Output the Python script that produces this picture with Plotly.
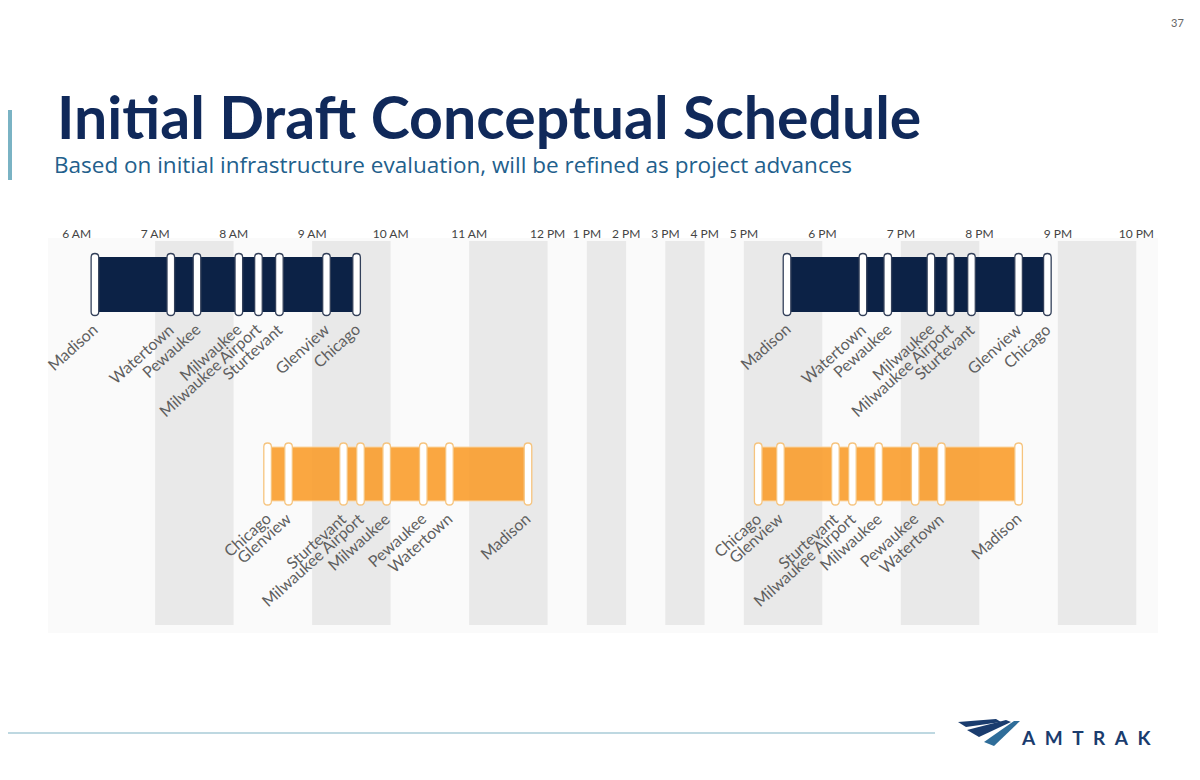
import plotly.graph_objects as go

# ---------------- data ----------------
hour_values = list(range(6, 23))
hour_labels = ["6 AM", "7 AM", "8 AM", "9 AM", "10 AM", "11 AM", "12 PM", "1 PM", "2 PM",
               "3 PM", "4 PM", "5 PM", "6 PM", "7 PM", "8 PM", "9 PM", "10 PM"]
band_start_hours = [7, 9, 11, 13, 15, 17, 19, 21]

eastbound_stations = ["Madison", "Watertown", "Pewaukee", "Milwaukee", "Milwaukee Airport",
                      "Sturtevant", "Glenview", "Chicago"]
westbound_stations = ["Chicago", "Glenview", "Sturtevant", "Milwaukee Airport", "Milwaukee",
                      "Pewaukee", "Watertown", "Madison"]

eb_morning_times = ["6:14", "7:12", "7:32", "8:04", "8:19", "8:35", "9:11", "9:34"]
eb_evening_times = ["17:33", "18:31", "18:50", "19:23", "19:38", "19:54", "20:30", "20:52"]
wb_morning_times = ["8:26", "8:42", "9:24", "9:37", "9:57", "10:25", "10:45", "11:45"]
wb_evening_times = ["17:11", "17:28", "18:10", "18:23", "18:43", "19:11", "19:31", "20:30"]

title_text = "Initial Draft Conceptual Schedule"
subtitle_text = "Based on initial infrastructure evaluation, will be refined as project advances"
page_number = "37"

# ---------------- helpers ----------------
def to_hours(t):
    h, m = t.split(":")
    return int(h) + int(m) / 60.0


def axis_pos(h):
    """Time scale with the midday hours (12 PM - 5 PM) drawn at half width."""
    if h <= 12:
        return h
    if h <= 17:
        return 12 + (h - 12) / 2.0
    return 14.5 + (h - 17)


OFF = 8                      # the page body has an 8px margin
W, H = 1200 - OFF, 780 - OFF
PLOT_TOP, PLOT_BOT = 241 - OFF, 625 - OFF
X_RANGE = [5.1261, 20.311]
Y_RANGE = [-0.797, 1.2296]
BAR_W = 0.285

NAVY = "#0c2246"
ORANGE = "rgb(250,160,50)"


def px(x):
    """page pixel x -> paper fraction"""
    return (x - OFF) / W


def py(y):
    """page pixel y -> paper fraction"""
    return (PLOT_BOT - (y - OFF)) / (PLOT_BOT - PLOT_TOP)


trips = [
    dict(stations=eastbound_stations, times=eb_morning_times, row=1, kind="eb"),
    dict(stations=eastbound_stations, times=eb_evening_times, row=1, kind="eb"),
    dict(stations=westbound_stations, times=wb_morning_times, row=0, kind="wb"),
    dict(stations=westbound_stations, times=wb_evening_times, row=0, kind="wb"),
]

fig = go.Figure()

# bars
for kind, color, opacity, line_col in [("eb", NAVY, 1.0, NAVY), ("wb", ORANGE, 0.92, "#fbd6a2")]:
    sel = [t for t in trips if t["kind"] == kind]
    starts = [axis_pos(to_hours(t["times"][0])) for t in sel]
    ends = [axis_pos(to_hours(t["times"][-1])) for t in sel]
    fig.add_trace(go.Bar(
        orientation="h",
        y=[t["row"] for t in sel],
        base=starts,
        x=[e - s for s, e in zip(starts, ends)],
        width=BAR_W,
        marker=dict(color=color, opacity=opacity, line=dict(color=line_col, width=1)),
        hoverinfo="skip",
        showlegend=False,
    ))

shapes = []
# faint chart backdrop
shapes.append(dict(type="rect", xref="paper", yref="paper", x0=px(48), x1=px(1158),
                   y0=py(633), y1=py(238), fillcolor="#fafafa", line=dict(width=0), layer="below"))
# alternating hour bands
for b in band_start_hours:
    shapes.append(dict(type="rect", xref="x", yref="paper", x0=axis_pos(b), x1=axis_pos(b + 1),
                       y0=0, y1=1, fillcolor="#e9e9e9", line=dict(width=0), layer="below"))

# stop markers (rounded white pills)
mw, mh, r = 3.8, 31, 3.8
pill = (f"M {-mw},{-mh + r} Q {-mw},{-mh} 0,{-mh} Q {mw},{-mh} {mw},{-mh + r} "
        f"L {mw},{mh - r} Q {mw},{mh} 0,{mh} Q {-mw},{mh} {-mw},{mh - r} Z")
annotations = []
for t in trips:
    outline = "#33405a" if t["kind"] == "eb" else "#f6c47e"
    for st, tm in zip(t["stations"], t["times"]):
        xp = axis_pos(to_hours(tm))
        shapes.append(dict(type="path", xref="x", yref="y", xsizemode="pixel", ysizemode="pixel",
                           xanchor=xp, yanchor=t["row"], path=pill, fillcolor="white",
                           line=dict(color=outline, width=1.3), layer="above"))
        annotations.append(dict(
            x=xp, y=t["row"] - BAR_W / 2, xref="x", yref="y", text=st, showarrow=False,
            textangle=-42, xanchor="right", yanchor="top", xshift=9, yshift=-5,
            font=dict(family="Lato", size=16, color="#5f5f5f"),
        ))

# page decorations
shapes.append(dict(type="rect", xref="paper", yref="paper", x0=px(8), x1=px(12), y0=py(180), y1=py(110),
                   fillcolor="#7ab3c4", line=dict(width=0)))
shapes.append(dict(type="line", xref="paper", yref="paper", x0=px(8), x1=px(935), y0=py(733), y1=py(733),
                   line=dict(color="#a9cbd7", width=1.5)))
shapes.append(dict(type="line", xref="paper", yref="paper", x0=px(1197), x1=px(1197), y0=py(8), y1=py(780),
                   line=dict(color="#dedede", width=1.5)))


def poly(points):
    return "M " + " L ".join(f"{px(x)},{py(y)}" for x, y in points) + " Z"


for pts, col in [
    ([(958, 722), (996, 719), (1001, 722), (966, 727)], "#1a3c6e"),
    ([(967, 730), (1006, 720), (1011, 722), (979, 737)], "#1a3c6e"),
    ([(984, 742), (1014, 721), (1020, 721), (994, 746)], "#2f6d99"),
]:
    shapes.append(dict(type="path", xref="paper", yref="paper", path=poly(pts),
                       fillcolor=col, line=dict(width=0)))

annotations += [
    dict(x=px(56), y=py(117), xref="paper", yref="paper", text=f"<b>{title_text}</b>", showarrow=False,
         xanchor="left", yanchor="middle", borderpad=0,
         font=dict(family="Lato", size=59, color="#10295a")),
    dict(x=px(53), y=py(165), xref="paper", yref="paper", text=subtitle_text, showarrow=False,
         xanchor="left", yanchor="middle", borderpad=0,
         font=dict(family="Open Sans", size=22.5, color="#22608c")),
    dict(x=px(1177), y=py(22), xref="paper", yref="paper", text=page_number, showarrow=False,
         xanchor="center", yanchor="middle", font=dict(family="Lato", size=11, color="#666666")),
    dict(x=px(1086), y=py(737), xref="paper", yref="paper",
         text="<b>A\u2002M\u2002T\u2002R\u2002A\u2002K</b>", showarrow=False,
         xanchor="center", yanchor="middle", font=dict(family="Lato", size=19, color="#1a3c6e")),
]

fig.update_layout(
    width=W, height=H,
    margin=dict(l=0, r=0, t=PLOT_TOP, b=H - PLOT_BOT, pad=0),
    paper_bgcolor="white", plot_bgcolor="rgba(0,0,0,0)",
    barmode="overlay",
    shapes=shapes, annotations=annotations,
    xaxis=dict(range=X_RANGE, side="top", tickvals=[axis_pos(h) for h in hour_values],
               ticktext=hour_labels, showgrid=False, zeroline=False, showline=False, ticks="",
               tickfont=dict(family="Lato", size=12, color="#444444"), fixedrange=True),
    yaxis=dict(range=Y_RANGE, showgrid=False, zeroline=False, showline=False,
               showticklabels=False, fixedrange=True),
)

fig.write_html("out.html")
